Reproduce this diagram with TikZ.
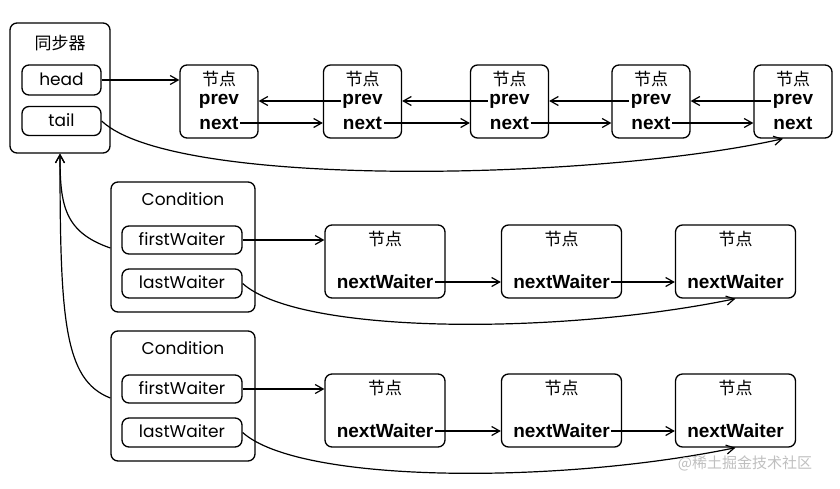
\documentclass[tikz,border=0pt]{standalone}
\usepackage{fontspec}
\setmainfont{Poppins}
\newfontfamily\boldf{Liberation Sans}
\newfontfamily\cjk{Noto Sans CJK SC}
\usetikzlibrary{arrows.meta}
\begin{document}
\begin{tikzpicture}[x=1pt,y=-1pt,
  box/.style={draw, rounded corners=7pt, line width=1.3pt, inner sep=0pt},
  lbl/.style={font=\fontsize{17}{20}\selectfont, inner sep=0pt},
  bld/.style={font=\boldf\bfseries\fontsize{19}{20}\selectfont, inner sep=1.5pt},
  zh/.style={font=\cjk\fontsize{17}{20}\selectfont, inner sep=0pt},
  arr/.style={line width=1.2pt, -{Straight Barb[length=8pt,width=9pt,line width=1.2pt]}},
  con/.style={line width=1.2pt}]
\useasboundingbox (0,0) rectangle (840,488);
% synchronizer
\node[box, minimum width=100pt, minimum height=130pt] (sync) at (60,88) {};
\node[zh] (synct) at (60,43) {同步器};
\node[box, minimum width=79pt, minimum height=30pt] (head) at (61.5,80) {};
\node[lbl] (headt) at (61.5,79) {head};
\node[box, minimum width=79pt, minimum height=29pt] (tail) at (61.5,121) {};
\node[lbl] (tailt) at (61.5,120) {tail};
% top nodes
\foreach \i/\x in {1/219,2/362.5,3/509.5,4/651,5/793}{
  \node[box, minimum width=78pt, minimum height=73pt] (t\i) at (\x,101.5) {};
  \node[zh] (t\i h) at (\x,79) {节点};
  \node[bld] (t\i p) at (\x,101) {prev};
  \node[bld] (t\i n) at (\x,123) {next};
}
\draw[arr] (head.east) -- (t1.west |- head.east);
\foreach \i/\j in {1/2,2/3,3/4,4/5}{
  \draw[arr] (t\i n.east) -- (t\j.west |- t\i n.east);
  \draw[arr] (t\j p.west) -- (t\i.east |- t\j p.west);
}
\draw[arr] (tail.east) .. controls (175,190) and (600,180) .. ([xshift=-10pt]t5.south);
% conditions
\foreach \c/\y in {1/0,2/149}{
  \node[box, minimum width=144pt, minimum height=130pt] (c\c) at (183,247+\y) {};
  \node[lbl] (c\c t) at (183,199+\y) {Condition};
  \node[box, minimum width=120pt, minimum height=28pt] (c\c f) at (182,240+\y) {};
  \node[lbl] (c\c ft) at (182,239+\y) {firstWaiter};
  \node[box, minimum width=120pt, minimum height=29pt] (c\c l) at (182,283.5+\y) {};
  \node[lbl] (c\c lt) at (182,282.5+\y) {lastWaiter};
  \foreach \k/\x in {1/385,2/561.5,3/735.5}{
    \node[box, minimum width=120pt, minimum height=73pt] (w\c\k) at (\x,261.5+\y) {};
    \node[zh] (w\c\k h) at (\x,239+\y) {节点};
    \node[bld] (w\c\k n) at (\x,282+\y) {nextWaiter};
  }
  \draw[arr] (c\c f.east) -- (w\c1.west |- c\c f.east);
  \draw[arr] (w\c1n.east) -- (w\c2.west |- w\c1n.east);
  \draw[arr] (w\c2n.east) -- (w\c3.west |- w\c2n.east);
  \draw[arr] (c\c l.east) .. controls (300,335+\y) and (560,335+\y) .. (w\c3.south);
}
\draw[arr] ([yshift=-1pt]c1.west) .. controls (64,232) and (60,205) .. (sync.south);
\draw[arr] ([yshift=-2pt]c2.west) .. controls (64,380) and (60,320) .. (sync.south);
% watermark
\node[font=\cjk\fontsize{15}{18}\selectfont, text=black!25, inner sep=0pt] (wm) at (745,463) {@稀土掘金技术社区};
\end{tikzpicture}
\end{document}
